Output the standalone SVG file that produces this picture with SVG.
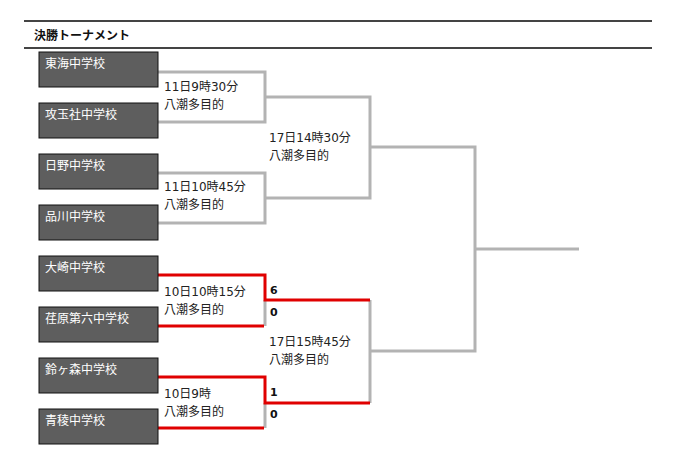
<svg xmlns="http://www.w3.org/2000/svg" width="683" height="476" viewBox="0 0 683 476">
<style>
.bg{fill:#ffffff}
.rule{stroke:#444444;stroke-width:2}
.title{font-family:"Noto Sans CJK JP","Noto Sans",sans-serif;font-size:12px;font-weight:bold;fill:#111111}
.team rect{fill:#5e5e5e;stroke:#111111;stroke-width:1}
.team text{font-family:"Noto Sans CJK JP","Noto Sans",sans-serif;font-size:12px;fill:#ffffff}
.g{fill:none;stroke:#b3b3b3;stroke-width:3}
.r{fill:none;stroke:#e00000;stroke-width:3}
.lbl{font-family:"DejaVu Sans","Noto Sans CJK JP",sans-serif;font-size:12px;fill:#222222}
.score{font-family:"DejaVu Sans",sans-serif;font-size:11px;font-weight:bold;fill:#111111}
</style>
<rect class="bg" x="0" y="0" width="683" height="476"/>
<g id="header">
<line class="rule" x1="24" y1="21" x2="652" y2="21"/>
<line class="rule" x1="24" y1="48" x2="652" y2="48"/>
<text class="title" x="34" y="40">決勝トーナメント</text>
</g>
<g id="connectors">
<polyline class="g" points="158,72 265,72 265,122 158,122"/>
<polyline class="g" points="158,173 265,173 265,223 158,223"/>
<polyline class="g" points="265,97 370,97 370,198 265,198"/>
<polyline class="g" points="370,147 475,147 475,351 370,351"/>
<line class="g" x1="475" y1="249" x2="579" y2="249"/>
<line class="g" x1="265" y1="300" x2="265" y2="326"/>
<line class="g" x1="265" y1="403" x2="265" y2="428"/>
<line class="g" x1="370" y1="300" x2="370" y2="403"/>
<polyline class="r" points="158,275 265,275 265,300 370,300"/>
<line class="r" x1="158" y1="326" x2="264" y2="326"/>
<polyline class="r" points="158,377 265,377 265,403 370,403"/>
<line class="r" x1="158" y1="428" x2="264" y2="428"/>
</g>
<g id="team1" class="team"><rect x="39" y="52" width="119" height="35"/><text x="45" y="68">東海中学校</text></g>
<g id="team2" class="team"><rect x="39" y="103" width="119" height="35"/><text x="45" y="119">攻玉社中学校</text></g>
<g id="team3" class="team"><rect x="39" y="154" width="119" height="35"/><text x="45" y="170">日野中学校</text></g>
<g id="team4" class="team"><rect x="39" y="205" width="119" height="35"/><text x="45" y="221">品川中学校</text></g>
<g id="team5" class="team"><rect x="39" y="256" width="119" height="35"/><text x="45" y="272">大崎中学校</text></g>
<g id="team6" class="team"><rect x="39" y="307" width="119" height="35"/><text x="45" y="323">荏原第六中学校</text></g>
<g id="team7" class="team"><rect x="39" y="358" width="119" height="35"/><text x="45" y="374">鈴ヶ森中学校</text></g>
<g id="team8" class="team"><rect x="39" y="409" width="119" height="35"/><text x="45" y="425">青稜中学校</text></g>
<g id="match1"><text class="lbl" x="164" y="91">11日9時30分</text><text class="lbl" x="164" y="109">八潮多目的</text></g>
<g id="match2"><text class="lbl" x="164" y="191">11日10時45分</text><text class="lbl" x="164" y="209">八潮多目的</text></g>
<g id="match3"><text class="lbl" x="164" y="296">10日10時15分</text><text class="lbl" x="164" y="314">八潮多目的</text></g>
<g id="match4"><text class="lbl" x="164" y="398">10日9時</text><text class="lbl" x="164" y="416">八潮多目的</text></g>
<g id="semi1"><text class="lbl" x="269" y="142">17日14時30分</text><text class="lbl" x="269" y="160">八潮多目的</text></g>
<g id="semi2"><text class="lbl" x="269" y="346">17日15時45分</text><text class="lbl" x="269" y="364">八潮多目的</text></g>
<g id="scores">
<text class="score" x="270" y="294">6</text>
<text class="score" x="270" y="316">0</text>
<text class="score" x="270" y="396">1</text>
<text class="score" x="270" y="418">0</text>
</g>
</svg>
